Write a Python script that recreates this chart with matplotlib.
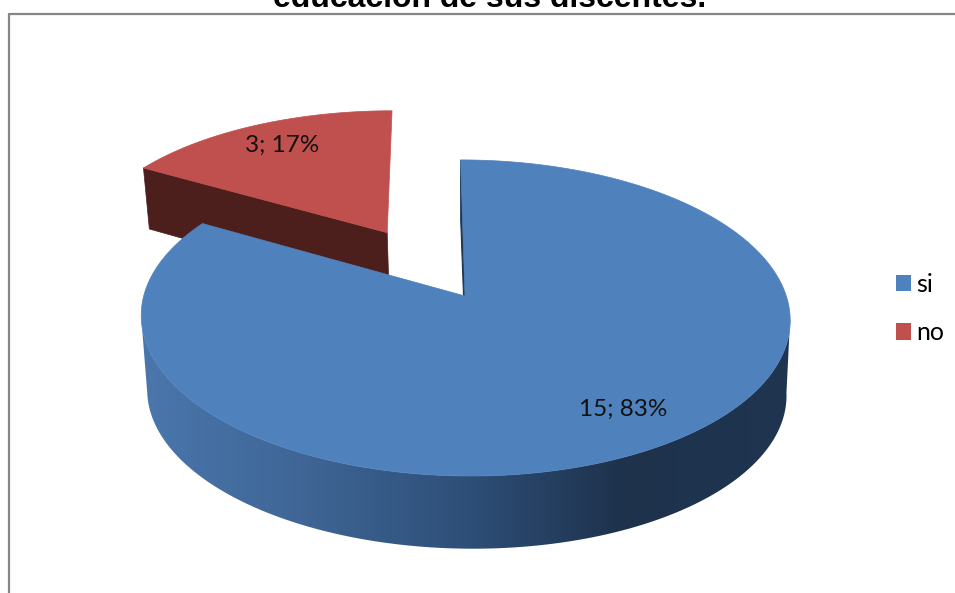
"""Exploded 3D style pie chart (si / no) drawn with plain matplotlib polygons."""

import matplotlib

matplotlib.use("Agg")
import matplotlib.pyplot as plt
import numpy as np
from matplotlib.patches import Patch, Polygon

categories = ["si", "no"]
values = [15, 3]
colors = ["#4f81bd", "#c0504d"]
title = "educación de sus discentes."

# perspective model of the pie, in pixels
TILT = 0.139
TOP = dict(ax=465.0, ay=296.0, a=321.3, b=155.0, skew=-5.0)
BOTTOM = dict(ax=466.0, ay=362.0, a=315.5, b=161.0, skew=-6.0)  # far part, seen behind the blue slice
FRONT = dict(ax=466.0, ay=371.0, a=316.5, b=153.0, skew=-6.0)  # lower rim of the blue slice
EXPLODE = 0.5


def project(plane, x, y):
    w = 1 + TILT * y
    return plane["ax"] + (plane["a"] * x + plane["skew"] * y) / w, plane["ay"] - plane["b"] * y / w


def wedge(plane, t1, t2, off=(0.0, 0.0)):
    t = np.radians(np.linspace(t1, t2, 300))
    x = np.r_[off[0], np.cos(t) + off[0]]
    y = np.r_[off[1], np.sin(t) + off[1]]
    return np.column_stack(project(plane, x, y))


def rim(plane, t1, t2):
    t = np.radians(np.linspace(t1, t2, 300))
    return np.column_stack(project(plane, np.cos(t), np.sin(t)))


fig = plt.figure(figsize=(9.55, 5.93), dpi=100)
ax = fig.add_axes([0, 0, 1, 1])
ax.set_xlim(0, 955)
ax.set_ylim(593, 0)
ax.axis("off")

# chart frame, right and bottom edges fall outside the picture
ax.plot([8.5, 8.5, 955], [593, 14, 14], color="#868686", lw=1.6, zorder=1)

total = sum(values)
sweep = [v / total * 360 for v in values]
blue_start = 90
blue_end = blue_start - sweep[0]  # clockwise
red_start = blue_end
red_end = red_start - sweep[1]

# red slice, pulled out along its middle angle
mid = np.radians((red_start + red_end) / 2)
off = (EXPLODE * np.cos(mid), EXPLODE * np.sin(mid))
top_red = wedge(TOP, red_start, red_end, off)
bot_red = wedge(BOTTOM, red_start, red_end, off)
wall = np.vstack([top_red[0], top_red[1], bot_red[1], bot_red[0]])
ax.add_patch(Polygon(wall, closed=True, fc="#4d1f1c", ec="#4d1f1c", lw=0.5, zorder=2))
ax.add_patch(Polygon(top_red, closed=True, fc=colors[1], ec=colors[1], lw=0.5, zorder=3))

# thin inner wall of the blue slice
top_blue = wedge(TOP, blue_start, blue_end)
bot_blue = wedge(BOTTOM, blue_start, blue_end)
inner = np.vstack([top_blue[0], top_blue[1], bot_blue[1], bot_blue[0]])
ax.add_patch(Polygon(inner, closed=True, fc="#1d3550", ec="#1d3550", lw=0.8, zorder=4))

# blue outer side with a horizontal gradient, between the silhouette tangents
tangent = np.degrees(np.arcsin(TILT))
side = np.vstack([rim(TOP, 180 + tangent, 360 - tangent), rim(FRONT, 360 - tangent, 180 + tangent)])
xs = np.arange(130, 800)
stops_x = [147, 300, 465, 620, 790]
stops_c = np.array([[0x4a, 0x76, 0xac], [0x3f, 0x66, 0x96], [0x2e, 0x4f, 0x78], [0x1e, 0x32, 0x4c], [0x1f, 0x35, 0x50]])
grad = np.stack([np.interp(xs, stops_x, stops_c[:, i]) for i in range(3)], axis=-1)[None] / 255
clip = Polygon(side, closed=True, transform=ax.transData, fc="none", ec="none")
ax.add_patch(clip)
im = ax.imshow(grad, extent=[130, 800, 560, 280], aspect="auto", zorder=5, interpolation="bilinear")
im.set_clip_path(clip)
ax.set_xlim(0, 955)
ax.set_ylim(593, 0)

ax.add_patch(Polygon(top_blue, closed=True, fc=colors[0], ec=colors[0], lw=0.5, zorder=6))

# data labels
for name_pos, v in zip([(623, 409), (282, 145)], values):
    ax.text(name_pos[0], name_pos[1], f"{v}; {v / total * 100:.0f}%", ha="center", va="center",
            family="Lato", fontsize=17.5, color="#111111", zorder=7)

handles = [Patch(fc=c, ec="none", label=n) for c, n in zip(colors, categories)]
ax.legend(handles=handles, loc="upper left", bbox_to_anchor=(888, 265), bbox_transform=ax.transData,
          frameon=False, prop={"family": "Lato", "size": 18}, handlelength=0.62, handleheight=0.62,
          handletextpad=0.2, labelspacing=1.03, borderpad=0.3, borderaxespad=0)

ax.text(490, 7, title, ha="center", va="baseline", family="Liberation Sans", fontweight="bold",
        fontsize=23, color="black", clip_on=False)

fig.savefig("out.png", dpi=100)
